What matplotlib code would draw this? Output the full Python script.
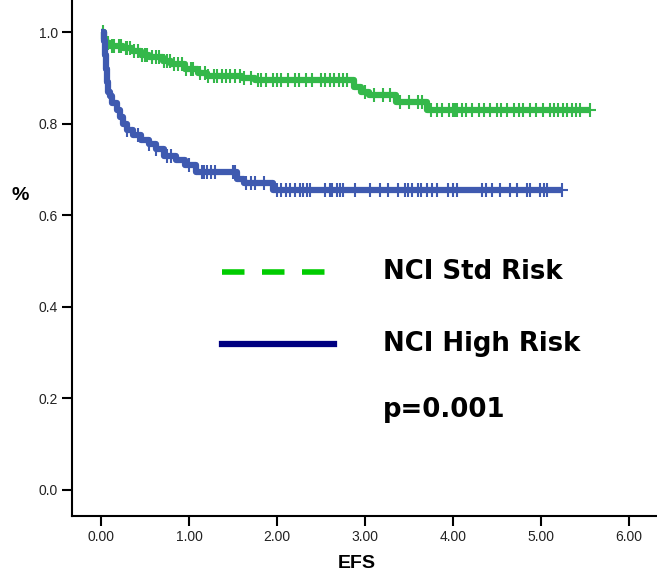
import matplotlib.pyplot as plt
import numpy as np

plt.rcParams['font.family'] = ['Liberation Sans', 'DejaVu Sans']

# step data (time in years, survival fraction)
std_t = [0.0, 0.03, 0.06, 0.10, 0.25, 0.35, 0.45, 0.55, 0.70, 0.80, 0.95, 1.10, 1.20,
         1.60, 1.75, 2.88, 2.95, 3.05, 3.35, 3.70]
std_s = [1.0, 0.985, 0.975, 0.97, 0.965, 0.958, 0.95, 0.945, 0.937, 0.93, 0.92, 0.91,
         0.905, 0.90, 0.895, 0.88, 0.87, 0.862, 0.847, 0.83]
std_end = 5.56
std_cens = [0.02, 0.05, 0.08, 0.12, 0.15, 0.20, 0.23, 0.28, 0.30, 0.33, 0.38, 0.42, 0.47,
            0.50, 0.52, 0.58, 0.62, 0.66, 0.72, 0.75, 0.78, 0.83, 0.88, 0.92, 0.97, 1.02,
            1.05, 1.12, 1.18, 1.22, 1.28, 1.32, 1.38, 1.42, 1.47, 1.52, 1.58, 1.63, 1.70,
            1.78, 1.82, 1.88, 1.95, 2.00, 2.05, 2.12, 2.20, 2.25, 2.33, 2.40, 2.50, 2.55,
            2.60, 2.65, 2.70, 2.75, 2.80, 3.00, 3.10, 3.20, 3.28, 3.40, 3.50, 3.60, 3.65,
            3.75, 3.82, 3.88, 3.95, 4.00, 4.02, 4.05, 4.10, 4.15, 4.22, 4.30, 4.35, 4.42,
            4.50, 4.55, 4.62, 4.70, 4.75, 4.80, 4.88, 4.95, 5.02, 5.10, 5.15, 5.20, 5.25,
            5.30, 5.35, 5.40, 5.45, 5.56]

high_t = [0.0, 0.03, 0.05, 0.06, 0.07, 0.08, 0.10, 0.13, 0.18, 0.22, 0.25, 0.30, 0.36,
          0.45, 0.55, 0.62, 0.72, 0.85, 0.95, 1.08, 1.55, 1.62, 1.95]
high_s = [1.0, 0.98, 0.95, 0.92, 0.89, 0.87, 0.86, 0.845, 0.83, 0.815, 0.80, 0.785, 0.775,
          0.765, 0.755, 0.745, 0.73, 0.72, 0.71, 0.695, 0.68, 0.67, 0.655]
high_end = 5.24
high_cens = [0.05, 0.30, 0.42, 0.55, 0.62, 0.75, 0.80, 1.00, 1.15, 1.17, 1.20, 1.25, 1.30,
             1.50, 1.52, 1.65, 1.70, 1.75, 1.85, 2.00, 2.05, 2.10, 2.15, 2.20, 2.26, 2.30,
             2.34, 2.38, 2.55, 2.60, 2.63, 2.68, 2.72, 2.75, 2.89, 3.06, 3.17, 3.26, 3.38,
             3.45, 3.49, 3.53, 3.60, 3.64, 3.70, 3.76, 3.82, 3.94, 4.00, 4.05, 4.33, 4.38,
             4.45, 4.53, 4.65, 4.73, 4.84, 4.875, 4.99, 5.03, 5.07, 5.24]

xticks = [0, 1, 2, 3, 4, 5, 6]
yticks = [0.0, 0.2, 0.4, 0.6, 0.8, 1.0]

green = '#34b84a'
blue = '#3f5ab0'

fig = plt.figure(figsize=(6.57, 5.79), dpi=100)
ax = fig.add_axes([72 / 657, 63 / 579, 585 / 657, 516 / 579])


def km(ax, t, s, end, cens, color):
    tt = list(t) + [end]
    ss = list(s) + [s[-1]]
    ax.step(tt, ss, where='post', color=color, lw=4.5, solid_capstyle='butt')
    idx = np.searchsorted(t, cens, side='right') - 1
    ax.plot(cens, np.array(s)[idx], ls='none', marker='|', ms=10, mew=1.5, color=color)
    ax.plot([end], [s[-1]], ls='none', marker='_', ms=8, mew=1.5, color=color)


km(ax, std_t, std_s, std_end, std_cens, green)
km(ax, high_t, high_s, high_end, high_cens, blue)

# legend drawn as text in the plot
ax.plot([1.38, 2.545], [0.475, 0.475], color='#00cc00', lw=4, dashes=(4.05, 3.15))
ax.plot([1.37, 2.65], [0.318, 0.318], color='#000080', lw=4.5)
lab = dict(fontsize=18.7, fontweight='bold', va='center', family='DejaVu Sans')
ax.text(3.2, 0.475, 'NCI Std Risk', **lab)
ax.text(3.2, 0.318, 'NCI High Risk', **lab)
ax.text(3.2, 0.175, 'p=0.001', **lab)

ax.set_xlim(-0.33, 6.32)
ax.set_ylim(-0.057, 1.07)
ax.set_xticks(xticks)
ax.set_xticklabels(['%.2f' % v for v in xticks])
ax.set_yticks(yticks)
ax.set_yticklabels(['%.1f' % v for v in yticks])
for side in ['top', 'right']:
    ax.spines[side].set_visible(False)
for side in ['left', 'bottom']:
    ax.spines[side].set_linewidth(1.5)
ax.tick_params(direction='out', length=7, width=1.5, labelsize=10, pad=3, colors='black')
ax.tick_params(axis='x', labelcolor='#222222')
ax.tick_params(axis='y', labelcolor='#222222')

fig.text(20 / 657, 1 - 195 / 579, '%', fontsize=14, fontweight='bold', ha='center', va='center')
fig.text(357 / 657, 1 - 563 / 579, 'EFS', fontsize=14, fontweight='bold', ha='center', va='center')

fig.savefig('out.png', dpi=100)
